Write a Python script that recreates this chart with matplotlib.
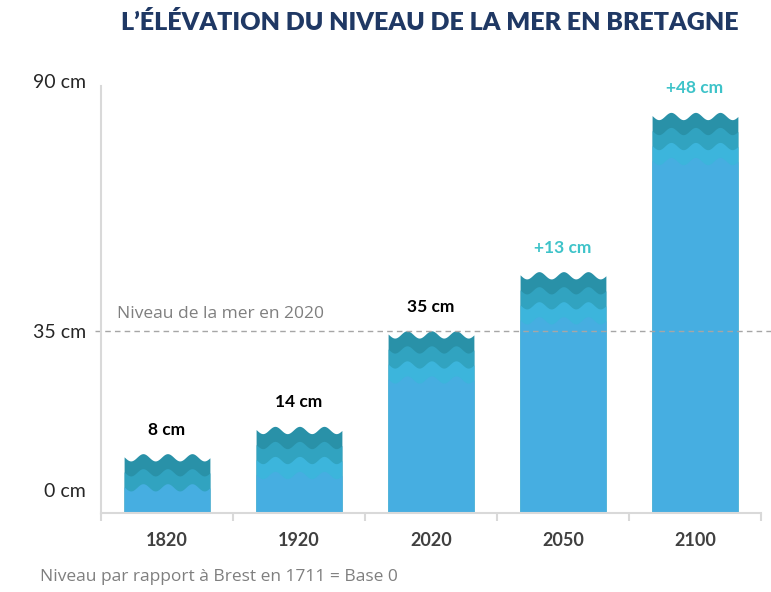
import numpy as np
import matplotlib
matplotlib.use("Agg")
import matplotlib.pyplot as plt

# niveaux de la mer (cm, base 0 = Brest 1711)
annees = ["1820", "1920", "2020", "2050", "2100"]
niveaux = [8, 14, 35, 48, 83]
ref_annee = "2020"
yticks = [0, 35, 90]

C_DARK, C_MID, C_LIGHT, C_MAIN = "#2991a8", "#31a3c0", "#3cb5dc", "#46aee1"
C_TEAL = "#3ec3c9"
C_GRID = "#d9d9d9"

fig = plt.figure(figsize=(7.71, 5.92), dpi=100)
ax = fig.add_axes([0.131, 0.1334, 0.856, 0.7306])
ymin, ymax = -5.05, 90
ax.set_xlim(-0.5, len(annees) - 0.5)
ax.set_ylim(ymin, ymax)

W = 0.65          # largeur des barres
BAND = 3.3        # epaisseur d'une vague (cm)
AMP = 0.8         # demi-hauteur de la vague


def vague(xs, left, top):
    u = (xs - left) / W
    return top - AMP * (1 - np.cos(2 * np.pi * (u - 0.22) * 3.5))


ref = niveaux[annees.index(ref_annee)]
for i, (an, v) in enumerate(zip(annees, niveaux)):
    left = i - W / 2
    xs = np.linspace(left, left + W, 200)
    couches = [C_DARK, C_MID]
    if v - 3 * BAND > 0:
        couches.append(C_LIGHT)
    for k, c in enumerate(couches):
        ax.fill_between(xs, ymin, vague(xs, left, v - k * BAND), color=c, lw=0)
    ax.fill_between(xs, ymin, vague(xs, left, v - len(couches) * BAND), color=C_MAIN, lw=0)

    if int(an) > int(ref_annee):
        txt, col = f"+{v - ref} cm", C_TEAL
    else:
        txt, col = f"{v} cm", "black"
    ax.text(i, v + 5.3, txt, ha="center", va="center", fontsize=12.5,
            fontweight="bold", color=col, family="Lato")

# ligne du niveau 2020
ax.plot([-0.009, 1.015], [ref, ref], transform=ax.get_yaxis_transform(),
        color="#a6a6a6", lw=1, ls=(0, (4, 3)), clip_on=False)
ax.text(0.024, ref + 2.0, f"Niveau de la mer en {ref_annee}",
        transform=ax.get_yaxis_transform(), fontsize=12.5, color="#7f7f7f",
        family="Open Sans", va="bottom", ha="left")

# axes
for s in ["top", "right"]:
    ax.spines[s].set_visible(False)
for s in ["left", "bottom"]:
    ax.spines[s].set_color(C_GRID)
    ax.spines[s].set_linewidth(1.5)
ax.spines["left"].set_bounds(ymin, 88.8)

ax.set_yticks(yticks)
ax.set_yticklabels([f"{t} cm" for t in yticks], family="Lato", fontweight="normal",
                   fontsize=14, color="#262626")
ax.tick_params(axis="y", length=0, pad=11)

ax.set_xticks(range(len(annees)))
ax.set_xticklabels(annees, family="Lato", fontweight="bold", fontsize=13,
                   color="#404040")
ax.set_xticks(np.arange(-0.5, len(annees)), minor=True)
ax.tick_params(axis="x", which="major", length=0, pad=14)
ax.tick_params(axis="x", which="minor", length=6, width=1.5, color=C_GRID,
               direction="out")

fig.text(0.558, 0.962, "L’ÉLÉVATION DU NIVEAU DE LA MER EN BRETAGNE",
         ha="center", va="center", fontsize=18, fontweight="heavy",
         color="#1f3864", family="Lato")
fig.text(40 / 771, 1 - 577 / 592, "Niveau par rapport à Brest en 1711 = Base 0",
         ha="left", va="center", fontsize=12.5, color="#7f7f7f", family="Open Sans")

fig.savefig("out.png", dpi=100)
